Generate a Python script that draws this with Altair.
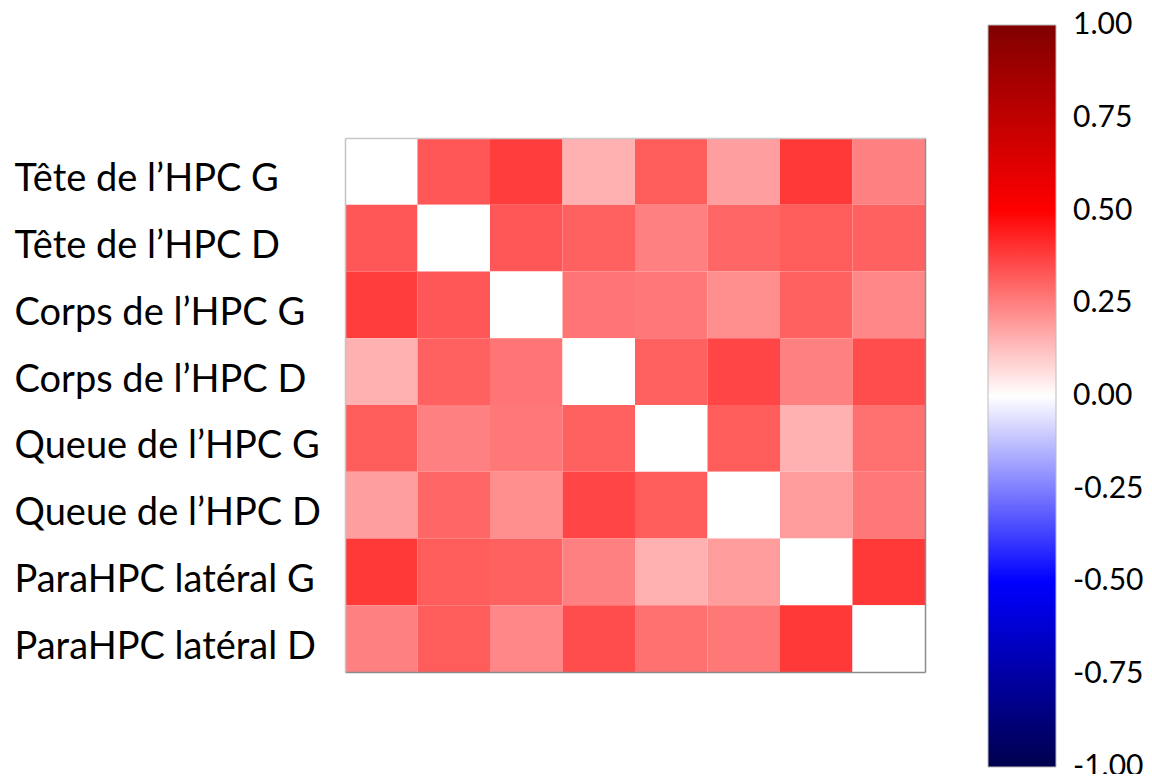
import altair as alt
import pandas as pd

regions = [
    "Tête de l’HPC G",
    "Tête de l’HPC D",
    "Corps de l’HPC G",
    "Corps de l’HPC D",
    "Queue de l’HPC G",
    "Queue de l’HPC D",
    "ParaHPC latéral G",
    "ParaHPC latéral D",
]

row_tete_g   = [0.00, 0.33, 0.38, 0.155, 0.32, 0.19, 0.39, 0.25]
row_tete_d   = [0.33, 0.00, 0.33, 0.31, 0.25, 0.30, 0.32, 0.31]
row_corps_g  = [0.38, 0.33, 0.00, 0.27, 0.265, 0.22, 0.31, 0.235]
row_corps_d  = [0.155, 0.31, 0.27, 0.00, 0.31, 0.365, 0.25, 0.35]
row_queue_g  = [0.32, 0.25, 0.265, 0.31, 0.00, 0.32, 0.155, 0.28]
row_queue_d  = [0.19, 0.30, 0.22, 0.365, 0.32, 0.00, 0.195, 0.265]
row_para_g   = [0.39, 0.32, 0.31, 0.25, 0.155, 0.195, 0.00, 0.39]
row_para_d   = [0.25, 0.32, 0.235, 0.35, 0.28, 0.265, 0.39, 0.00]

matrix = [row_tete_g, row_tete_d, row_corps_g, row_corps_d,
          row_queue_g, row_queue_d, row_para_g, row_para_d]

legend_values = [-1.0, -0.75, -0.5, -0.25, 0.0, 0.25, 0.5, 0.75, 1.0]

records = []
for i, r in enumerate(regions):
    for j, c in enumerate(regions):
        records.append({"row": r, "col": c, "value": matrix[i][j]})
df = pd.DataFrame(records)

color_scale = alt.Scale(
    domain=[-1.001, -0.5, 0, 0.5, 1.001],
    range=["#00004d", "#0000ff", "#ffffff", "#ff0000", "#800000"],
    interpolate="rgb",
)

heat = (
    alt.Chart(df)
    .mark_rect()
    .encode(
        x=alt.X(
            "col:N",
            sort=regions,
            axis=alt.Axis(
                orient="bottom",
                title=None,
                labels=False,
                ticks=False,
                domain=True,
                domainColor="#8c8c8c",
                domainWidth=1.5,
                zindex=1,
            ),
        ),
        y=alt.Y(
            "row:N",
            sort=regions,
            axis=alt.Axis(
                orient="left",
                title=None,
                ticks=False,
                domain=True,
                domainColor="#c4c4c4",
                domainWidth=1.5,
                zindex=1,
                labelAlign="left",
                labelPadding=331,
                labelFont="Lato",
                labelFontSize=38,
                labelColor="black",
                labelLimit=500,
                labelOffset=9,
            ),
        ),
        color=alt.Color(
            "value:Q",
            scale=color_scale,
            legend=alt.Legend(
                title=None,
                orient="none",
                legendX=643,
                legendY=-113,
                direction="vertical",
                gradientLength=742,
                gradientThickness=68,
                gradientStrokeColor="#bbbbbb",
                gradientStrokeWidth=1,
                values=legend_values,
                labelExpr="replace(format(datum.value, '.2f'), '\u2212', '-')",
                labelFont="Lato",
                labelFontSize=30,
                labelColor="black",
                labelOffset=17,
                labelOverlap=False,
            ),
        ),
    )
)

frame = (
    alt.Chart(df)
    .mark_rect(fillOpacity=0, strokeOpacity=0)
    .encode(
        x=alt.X(
            "col:N",
            sort=regions,
            axis=alt.Axis(
                orient="top",
                title=None,
                labels=False,
                ticks=False,
                domain=True,
                domainColor="#c8c8c8",
                domainWidth=1.5,
                zindex=1,
            ),
        ),
        y=alt.Y(
            "row:N",
            sort=regions,
            axis=alt.Axis(
                orient="right",
                title=None,
                labels=False,
                ticks=False,
                domain=True,
                domainColor="#8c8c8c",
                domainWidth=1.5,
                zindex=1,
            ),
        ),
    )
)

chart = (
    alt.layer(heat, frame)
    .properties(
        width=580,
        height=534,
        autosize=alt.AutoSizeParams(type="none"),
        padding={"left": 337, "top": 130, "right": 219, "bottom": 102},
    )
    .configure_view(strokeWidth=0)
)

chart.save("out.html", embed_options={"renderer": "svg", "actions": False})
